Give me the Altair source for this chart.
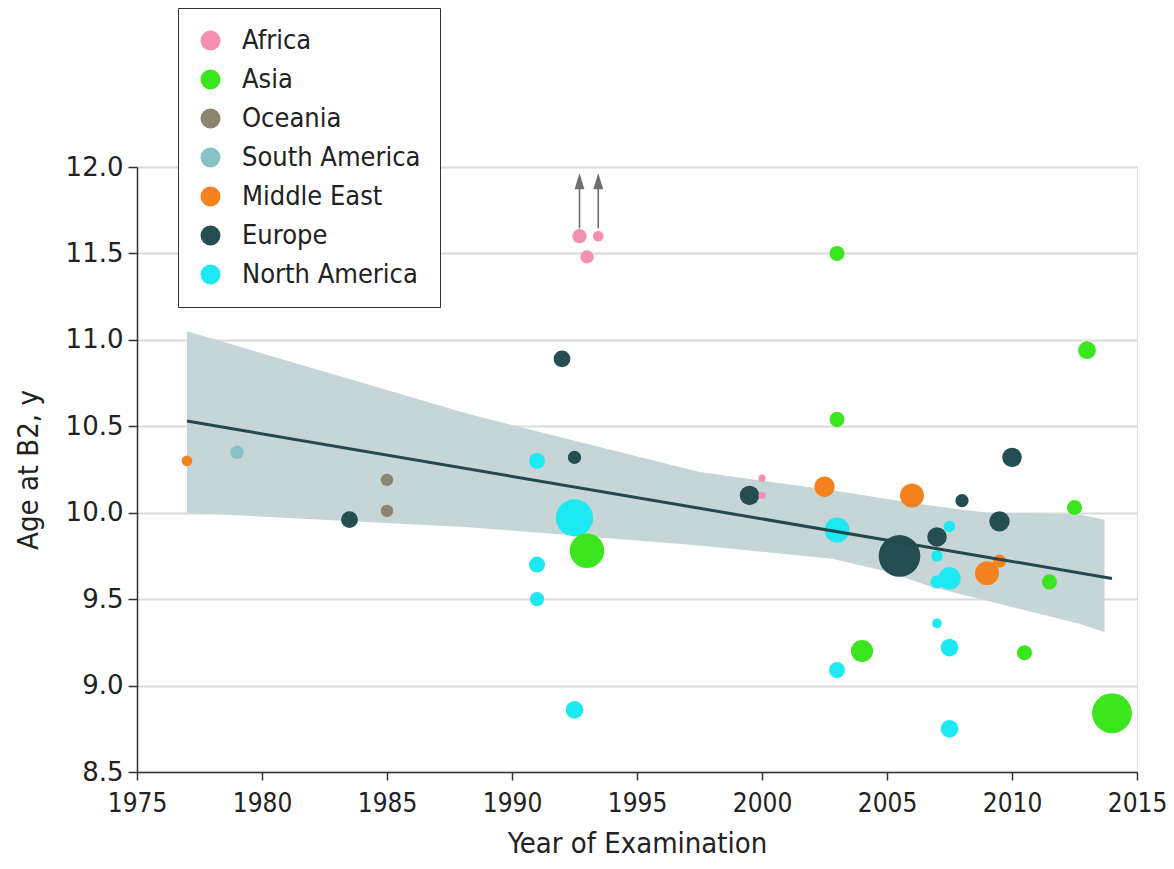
import altair as alt
import pandas as pd

# ---- data ----
regions_order = ["Africa", "Asia", "Oceania", "South America", "Middle East", "Europe", "North America"]
region_colors = ["#F48FB1", "#3CE61E", "#8A8470", "#86C2C4", "#F5821F", "#244E52", "#1DE9F2"]

# per region: year of examination, age at B2, relative study weight (bubble)
na_year = [1991, 1991, 1991, 1992.5, 1992.5, 2003, 2003, 2007.5, 2007, 2007.5, 2007, 2007, 2007.5, 2007.5]
na_age = [10.30, 9.70, 9.50, 9.97, 8.86, 9.90, 9.09, 9.92, 9.75, 9.62, 9.60, 9.36, 9.22, 8.75]
na_w = [18, 18, 16, 42, 20, 28, 18, 13, 13, 25, 15, 11, 20, 20]
eu_year = [1983.5, 1992, 1992.5, 1999.5, 2005.5, 2007, 2008, 2009.5, 2010]
eu_age = [9.96, 10.89, 10.32, 10.10, 9.75, 9.86, 10.07, 9.95, 10.32]
eu_w = [19, 19, 15, 22, 47, 22, 15, 23, 22]
af_year = [1992.7, 1993.45, 1993, 2000, 2000]
af_age = [11.60, 11.60, 11.48, 10.20, 10.10]
af_w = [16, 12, 15, 8, 8]
as_year = [1993, 2003, 2003, 2004, 2010.5, 2011.5, 2012.5, 2013, 2014]
as_age = [9.78, 10.54, 11.50, 9.20, 9.19, 9.60, 10.03, 10.94, 8.84]
as_w = [39, 17, 17, 25, 17, 17, 17, 20, 45]
me_year = [1977, 2002.5, 2006, 2009, 2009.5]
me_age = [10.30, 10.15, 10.10, 9.65, 9.72]
me_w = [12, 23, 27, 27, 15]
oc_year = [1985, 1985]
oc_age = [10.19, 10.01]
oc_w = [14, 14]
sa_year = [1979]
sa_age = [10.35]
sa_w = [15]

groups = [("Oceania", oc_year, oc_age, oc_w), ("South America", sa_year, sa_age, sa_w),
          ("North America", na_year, na_age, na_w), ("Europe", eu_year, eu_age, eu_w),
          ("Africa", af_year, af_age, af_w), ("Asia", as_year, as_age, as_w),
          ("Middle East", me_year, me_age, me_w)]
rows = []
for r, ys_, vs, ws in groups:
    for y, v, w in zip(ys_, vs, ws):
        rows.append({"Region": r, "Year": y, "Age": v, "Weight": w * w})
points = pd.DataFrame(rows)
points["order"] = range(len(points))

# regression line and confidence band
fit_year = [1977, 2014]
fit_age = [10.53, 9.62]
band_year = [1977, 1988.3, 1997.5, 2002.8, 2005.0, 2006.8, 2009.0, 2012.7, 2013.7]
band_hi = [11.05, 10.57, 10.235, 10.13, 10.08, 10.04, 10.0, 9.99, 9.96]
band_lo = [10.00, 9.916, 9.81, 9.733, 9.66, 9.57, 9.49, 9.357, 9.31]

# arrows for off-scale African values
arrow_year = [1992.7, 1993.45]
arrow_from = [11.645, 11.645]
arrow_to = [11.885, 11.885]
arrow_head = [11.918, 11.918]

fit = pd.DataFrame({"Year": fit_year, "Age": fit_age})
band = pd.DataFrame({"Year": band_year, "hi": band_hi, "lo": band_lo})
arrows = pd.DataFrame({"Year": arrow_year, "a0": arrow_from, "a1": arrow_to, "head": arrow_head})

LAB = "DejaVu Sans Condensed"

xs = alt.Scale(domain=[1975, 2015], nice=False, zero=False)
ys = alt.Scale(domain=[8.5, 12.0], nice=False, zero=False)

x_axis = alt.Axis(values=list(range(1975, 2016, 5)), format="d", grid=False,
                  title="Year of Examination", titleFont=LAB, titleFontSize=29,
                  titleFontWeight="normal", titleColor="#222", titlePadding=13,
                  labelFont=LAB, labelFontSize=26, labelColor="#222", labelPadding=10,
                  tickSize=8, tickColor="#333", domainColor="#333", domainWidth=1.5,
                  tickWidth=1.5, labelFlush=False)
y_axis = alt.Axis(values=[8.5, 9.0, 9.5, 10.0, 10.5, 11.0, 11.5, 12.0], format=".1f",
                  grid=True, gridColor="#DADADA", gridWidth=2,
                  title="Age at B2, y", titleFont=LAB, titleFontSize=29,
                  titleFontWeight="normal", titleColor="#222", titlePadding=22,
                  labelFont="DejaVu Sans", labelFontSize=26, labelColor="#222",
                  labelPadding=5, tickSize=9, tickColor="#333", domainColor="#333",
                  domainWidth=1.5, tickWidth=1.5)

area = alt.Chart(band).mark_area(color="#C6D5D6", opacity=1).encode(
    x=alt.X("Year:Q", scale=xs, axis=x_axis),
    y=alt.Y("hi:Q", scale=ys, axis=y_axis),
    y2="lo:Q",
)

pts = alt.Chart(points).mark_circle(opacity=1, strokeWidth=0).encode(
    x=alt.X("Year:Q", scale=xs),
    y=alt.Y("Age:Q", scale=ys),
    color=alt.Color("Region:N",
                    scale=alt.Scale(domain=regions_order, range=region_colors),
                    legend=alt.Legend(orient="none", legendX=41, legendY=-159, title=None,
                                      labelFont=LAB, labelFontSize=27, labelColor="#222",
                                      symbolType="circle", symbolSize=400,
                                      symbolStrokeWidth=0, symbolOpacity=1,
                                      padding=19, rowPadding=11, labelOffset=18,
                                      strokeColor="#333", fillColor="white",
                                      labelLimit=400)),
    size=alt.Size("Weight:Q", scale=alt.Scale(domain=[0, 2500], range=[0, 1963]), legend=None),
    order=alt.Order("order:Q"),
)

line = alt.Chart(fit).mark_line(color="#24484C", strokeWidth=3).encode(
    x=alt.X("Year:Q", scale=xs), y=alt.Y("Age:Q", scale=ys))

shafts = alt.Chart(arrows).mark_rule(color="#6E6E6E", strokeWidth=1.6).encode(
    x=alt.X("Year:Q", scale=xs), y=alt.Y("a0:Q", scale=ys), y2="a1:Q")
heads = alt.Chart(arrows).mark_point(filled=True, color="#6E6E6E", opacity=1,
                                     shape="M0,-1L0.62,1L-0.62,1Z", size=256).encode(
    x=alt.X("Year:Q", scale=xs), y=alt.Y("head:Q", scale=ys))

chart = alt.layer(area, pts, line, shafts, heads).properties(
    width=1000, height=605,
    autosize=alt.AutoSizeParams(type="none"),
    padding={"left": 129, "top": 159, "right": 29, "bottom": 90},
).configure_view(stroke=None).configure(background="white")

chart.save("out.html", embed_options={"renderer": "svg", "actions": False})
